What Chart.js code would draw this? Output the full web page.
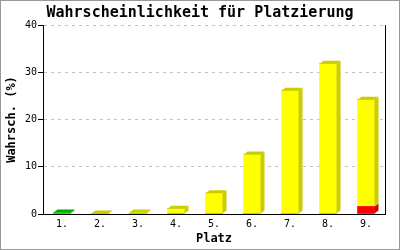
<!DOCTYPE html>
<html>
<head>
<meta charset="utf-8">
<script src="https://cdn.jsdelivr.net/npm/chart.js@4"></script>
<style>
html,body{margin:0;padding:0;background:#fff;}
canvas{display:block;}
</style>
</head>
<body>
<canvas id="c" width="400" height="250"></canvas>
<script>
const categories = ['1.','2.','3.','4.','5.','6.','7.','8.','9.'];
const greenValues  = [0.3, 0, 0, 0, 0, 0, 0, 0, 0];
const yellowValues = [0, 0.1, 0.3, 1.1, 4.4, 12.6, 26.1, 31.8, 22.6];
const redValues    = [0, 0, 0, 0, 0, 0, 0, 0, 1.6];
const yTicks = [0, 10, 20, 30, 40];

const FONT = "'DejaVu Sans Mono', 'Liberation Mono', monospace";
const DX = 4, DY = 3;

const sideColors = ['#cc0000', '#cccc00', '#00aa00'];

const bar3d = {
  id: 'bar3d',
  afterDatasetsDraw(chart) {
    const ctx = chart.ctx;
    const n = chart.data.labels.length;
    for (let i = 0; i < n; i++) {
      let topEl = null, topIdx = -1;
      chart.data.datasets.forEach((ds, d) => {
        const v = ds.data[i];
        if (!v) return;
        const el = chart.getDatasetMeta(d).data[i];
        const r = el.x + el.width / 2;
        ctx.fillStyle = sideColors[d];
        ctx.beginPath();
        ctx.moveTo(r, el.y);
        ctx.lineTo(r + DX, el.y - DY);
        ctx.lineTo(r + DX, el.base - DY);
        ctx.lineTo(r, el.base);
        ctx.closePath();
        ctx.fill();
        if (!topEl || el.y < topEl.y) { topEl = el; topIdx = d; }
      });
      if (topEl) {
        const l = topEl.x - topEl.width / 2, r = topEl.x + topEl.width / 2;
        ctx.fillStyle = sideColors[topIdx];
        ctx.beginPath();
        ctx.moveTo(l, topEl.y);
        ctx.lineTo(l + DX, topEl.y - DY);
        ctx.lineTo(r + DX, topEl.y - DY);
        ctx.lineTo(r, topEl.y);
        ctx.closePath();
        ctx.fill();
      }
    }
  },
  afterDraw(chart) {
    const ctx = chart.ctx;
    ctx.save();
    ctx.strokeStyle = '#999999';
    ctx.lineWidth = 1;
    ctx.strokeRect(0.5, 0.5, 399, 249);
    ctx.restore();
  }
};

const whiteBg = {
  id: 'whiteBg',
  beforeDraw(chart) {
    const ctx = chart.ctx;
    ctx.save();
    ctx.fillStyle = '#ffffff';
    ctx.fillRect(0, 0, chart.width, chart.height);
    ctx.restore();
  }
};

new Chart(document.getElementById('c'), {
  type: 'bar',
  data: {
    labels: categories,
    datasets: [
      { label: 'rot', data: redValues, backgroundColor: '#ff0000', borderWidth: 0, barThickness: 17 },
      { label: 'gelb', data: yellowValues, backgroundColor: '#ffff00', borderWidth: 0, barThickness: 17 },
      { label: 'grün', data: greenValues, backgroundColor: '#00dd00', borderWidth: 0, barThickness: 17 }
    ]
  },
  options: {
    responsive: false,
    devicePixelRatio: 1,
    animation: false,
    layout: { padding: 0 },
    plugins: {
      legend: { display: false },
      tooltip: { enabled: false },
      title: {
        display: true,
        text: 'Wahrscheinlichkeit für Platzierung',
        color: '#000',
        font: { family: FONT, size: 15, weight: 'bold' },
        padding: { top: 4, bottom: 3 }
      }
    },
    scales: {
      x: {
        stacked: true,
        grid: { display: false, drawTicks: false },
        border: { display: true, color: '#000', width: 1 },
        ticks: { color: '#000', font: { family: FONT, size: 10 }, padding: 4 },
        title: {
          display: true, text: 'Platz', color: '#000',
          font: { family: FONT, size: 12, weight: 'bold' },
          padding: { top: 0, bottom: 4 }
        },
        afterFit(s) { s.height = 36; }
      },
      y: {
        stacked: true,
        min: 0, max: 40,
        afterBuildTicks(s) { s.ticks = yTicks.map(v => ({ value: v })); },
        grid: {
          color: '#c0c0c0', lineWidth: 1,
          drawTicks: true, tickLength: 5, tickColor: '#000', tickBorderDash: [], tickWidth: 1
        },
        border: { display: true, color: '#000', width: 1, dash: [3, 4] },
        ticks: { color: '#000', font: { family: FONT, size: 10 }, padding: 1 },
        title: {
          display: true, text: 'Wahrsch. (%)', color: '#000',
          font: { family: FONT, size: 12, weight: 'bold' },
          padding: { top: 5, bottom: 0 }
        },
        afterFit(s) { s.width = 43; }
      },
      y2: {
        position: 'right',
        display: true,
        min: 0, max: 40,
        grid: { display: false, drawTicks: false },
        border: { display: true, color: '#000', width: 1 },
        ticks: { display: false },
        afterFit(s) { s.width = 15; }
      }
    }
  },
  plugins: [whiteBg, bar3d]
});
</script>
</body>
</html>
